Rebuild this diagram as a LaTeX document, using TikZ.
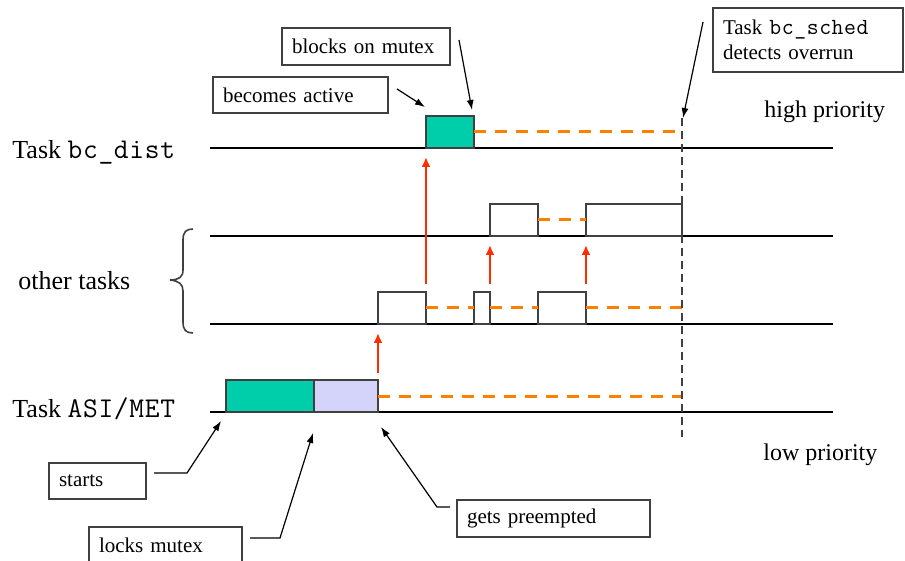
\documentclass[tikz,border=0pt]{standalone}
\usepackage{fontspec}
\setmainfont{Liberation Serif}
\setmonofont{Latin Modern Mono}[Scale=1.1,LetterSpace=2.5]
\usetikzlibrary{arrows.meta}
\definecolor{runG}{RGB}{0,206,170}
\definecolor{lav}{RGB}{212,212,250}
\definecolor{orng}{RGB}{255,128,0}
\definecolor{redA}{RGB}{255,45,0}
\definecolor{edgeC}{RGB}{64,64,64}
\begin{document}
\begin{tikzpicture}[x=0.5pt,y=-0.5pt,
  lane/.style={line width=0.6pt, black},
  slot/.style={draw=edgeC, line width=0.8pt, inner sep=0pt, outer sep=0pt, minimum height=16pt},
  wait/.style={orng, line width=1.5pt, dash pattern=on 6pt off 4.5pt},
  wake/.style={redA, line width=1.4pt, -{Latex[length=5pt,width=4.5pt]}},
  overrun/.style={edgeC, line width=0.9pt, dash pattern=on 4pt off 2.5pt},
  callout/.style={draw=edgeC, line width=0.7pt, anchor=north west, outer sep=0pt,
    inner xsep=5pt, inner ysep=0pt, align=left, font=\fontsize{10.5}{12.5}\selectfont},
  pointer/.style={line width=0.6pt, -{Latex[length=5pt,width=3.5pt]}},
  biglabel/.style={anchor=base west, inner sep=0pt, font=\fontsize{13}{15}\selectfont},
  prio/.style={anchor=base west, inner sep=0pt, font=\fontsize{12}{14}\selectfont}]
\useasboundingbox (0,0) rectangle (905,561);
\clip (0,0) rectangle (905,561);

% lanes
\coordinate (dS) at (210,148); \coordinate (dE) at (833,148);
\coordinate (tS) at (210,236); \coordinate (tE) at (833,236);
\coordinate (lS) at (210,324); \coordinate (lE) at (833,324);
\coordinate (aS) at (210,412); \coordinate (aE) at (833,412);
\draw[lane] (dS) -- (dE);
\draw[lane] (tS) -- (tE);
\draw[lane] (lS) -- (lE);
\draw[lane] (aS) -- (aE);

% task boxes
\node[slot, fill=runG, minimum width=24pt] (d1) at (450,132) {};
\node[slot, fill=white, minimum width=24pt] (t1) at (514,220) {};
\node[slot, fill=white, minimum width=48pt] (t2) at (634,220) {};
\node[slot, fill=white, minimum width=24pt] (l1) at (402,308) {};
\node[slot, fill=white, minimum width=8pt] (l2) at (482,308) {};
\node[slot, fill=white, minimum width=24pt] (l3) at (562,308) {};
\node[slot, fill=runG, minimum width=44pt] (a1) at (270,396) {};
\node[slot, fill=lav, minimum width=32pt] (a2) at (346,396) {};

% waiting (dashed orange)
\coordinate (dW) at (682,132);
\coordinate (lW) at (682,308);
\coordinate (aW) at (682,396);
\draw[wait] (d1.east) -- (dW);
\draw[wait] (t1.east) -- (t2.west);
\draw[wait] (l1.east) -- (l2.west);
\draw[wait] (l2.east) -- (l3.west);
\draw[wait] (l3.east) -- (lW);
\draw[wait] (a2.east) -- (aW);

% overrun line
\coordinate (ovTop) at (682,118);
\coordinate (ovBot) at (682,437);
\draw[overrun] (ovTop) -- (ovBot);

% preemption arrows
\draw[wake] ([yshift=3.5pt]a2.north east) -- ([yshift=-4.5pt]l1.south west);
\draw[wake] ([yshift=4pt]l1.north east) -- ([yshift=-4.5pt]d1.south west);
\draw[wake] ([yshift=4pt]l2.north east) -- ([yshift=-4.5pt]t1.south west);
\draw[wake] ([yshift=4pt]l3.north east) -- ([yshift=-4.5pt]t2.south west);

% labels
\node[biglabel] (lbD) at (12,159) {Task \texttt{bc\_dist}};
\node[biglabel] (lbO) at (18,290) {other tasks};
\node[biglabel] (lbA) at (12,417) {Task \texttt{ASI/MET}};
\node[prio] (hi) at (764,118) {high priority};
\node[prio] (lo) at (763,460) {low priority};

% brace
\draw[edgeC, line width=0.8pt] (193,229) .. controls (186,229) and (183,232) .. (183,240)
  -- (183,270) .. controls (183,277) and (179,280) .. (170,280)
  .. controls (179,281) and (183,284) .. (183,291)
  -- (183,322) .. controls (183,330) and (186,333) .. (193,333);

% callouts
\node[callout, text width=74pt, minimum height=18.5pt] (blk) at (282,28) {blocks on mutex};
\node[callout, text width=77.5pt, minimum height=18pt] (bec) at (213,77) {becomes active};
\node[callout, text width=85pt, minimum height=32pt] (sch) at (713,8) {Task \texttt{bc\_sched}\\detects overrun};
\node[callout, text width=38.5pt, minimum height=18pt] (sta) at (49,463) {starts};
\node[callout, text width=66.5pt, minimum height=18.5pt] (loc) at (89,527) {locks mutex};
\node[callout, text width=86.5pt, minimum height=18.5pt] (pre) at (457,500) {gets preempted};

\coordinate (blkT) at (472,110);
\coordinate (becT) at (425,107);
\coordinate (schT) at (683,118);
\coordinate (staB) at (187,473);
\coordinate (staT) at (221,421);
\coordinate (locB) at (280,538);
\coordinate (locT) at (313,433);
\coordinate (preB) at (437,507);
\coordinate (preT) at (381,427);

\draw[pointer] ([xshift=4.5pt,yshift=-6pt]blk.north east) -- (blkT);
\draw[pointer] ([xshift=4.5pt,yshift=-6pt]bec.north east) -- (becT);
\draw[pointer] ([xshift=-5pt,yshift=-7pt]sch.north west) -- (schT);
\draw[pointer] ([xshift=4pt,yshift=-5pt]sta.north east) -- (staB) -- (staT);
\draw[pointer] ([xshift=4pt,yshift=-5.5pt]loc.north east) -- (locB) -- (locT);
\draw[pointer] ([xshift=-3.5pt,yshift=-3.5pt]pre.north west) -- (preB) -- (preT);
\end{tikzpicture}
\end{document}
